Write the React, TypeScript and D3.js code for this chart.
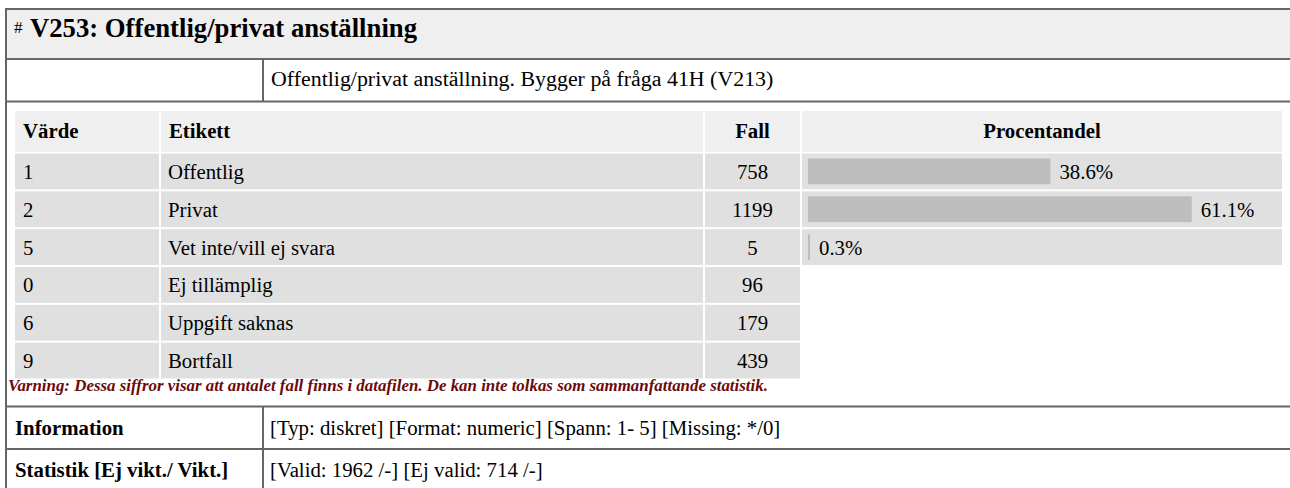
import React from "react";
import * as d3 from "d3";

const values = ["1", "2", "5", "0", "6", "9"];
const labels = ["Offentlig", "Privat", "Vet inte/vill ej svara", "Ej tillämplig", "Uppgift saknas", "Bortfall"];
const counts = [758, 1199, 5, 96, 179, 439];
const percents: (number | null)[] = [38.6, 61.1, 0.3, null, null, null];
const headers = ["Värde", "Etikett", "Fall", "Procentandel"];

const title = "V253: Offentlig/privat anställning";
const description = "Offentlig/privat anställning. Bygger på fråga 41H (V213)";
const warning = "Varning: Dessa siffror visar att antalet fall finns i datafilen. De kan inte tolkas som sammanfattande statistik.";
const infoLabel = "Information";
const infoText = "[Typ: diskret] [Format: numeric] [Spann: 1- 5] [Missing: */0]";
const statLabel = "Statistik [Ej vikt./ Vikt.]";
const statText = "[Valid: 1962 /-] [Ej valid: 714 /-]";

const W = 1290;
const H = 488;
const FONT = "Liberation Serif, Times New Roman, serif";
const FS = 20.8;

export default function App() {
  const rowStep = 37.5;
  const dataTop = 153.5;
  const y = d3
    .scaleBand<string>()
    .domain(values)
    .range([dataTop, dataTop + rowStep * values.length])
    .paddingInner(2 / rowStep)
    .paddingOuter(0);
  const rowH = y.bandwidth();
  const x = d3.scaleLinear().domain([0, 100]).range([0, 628]);

  const cols = [
    { x0: 15, x1: 159 },
    { x0: 161, x1: 703 },
    { x0: 705, x1: 800 },
    { x0: 802, x1: 1282 },
  ];
  const barX = 808;
  const border = "#666";

  return (
    <svg
      width={W}
      height={H}
      style={{ position: "absolute", left: 0, top: 0, display: "block", fontFamily: FONT }}
    >
      <rect x={0} y={0} width={W} height={H} fill="#fff" />
      <rect x={6} y={9} width={1290} height={50} fill="#efefef" />
      <text x={14} y={33} fontSize={17} fill="#000">#</text>
      <text x={30} y={37} fontSize={26.7} fontWeight="bold" fill="#000">{title}</text>
      <text x={271} y={86} fontSize={21.9} fill="#000">{description}</text>

      {headers.map((h, i) => {
        const c = cols[i];
        const centered = i >= 2;
        return (
          <g key={h}>
            <rect x={c.x0} y={111} width={c.x1 - c.x0} height={41} fill="#efefef" />
            <text
              x={centered ? (c.x0 + c.x1) / 2 : c.x0 + 8}
              y={138}
              fontSize={FS}
              fontWeight="bold"
              textAnchor={centered ? "middle" : "start"}
            >
              {h}
            </text>
          </g>
        );
      })}

      {values.map((v, i) => {
        const top = y(v)!;
        const p = percents[i];
        const base = top + rowH / 2 + 7.5;
        return (
          <g key={v}>
            <rect x={cols[0].x0} y={top} width={cols[0].x1 - cols[0].x0} height={rowH} fill="#e0e0e0" />
            <rect x={cols[1].x0} y={top} width={cols[1].x1 - cols[1].x0} height={rowH} fill="#e0e0e0" />
            <rect x={cols[2].x0} y={top} width={cols[2].x1 - cols[2].x0} height={rowH} fill="#e0e0e0" />
            <text x={cols[0].x0 + 8} y={base} fontSize={FS}>{v}</text>
            <text x={cols[1].x0 + 7} y={base} fontSize={FS}>{labels[i]}</text>
            <text x={(cols[2].x0 + cols[2].x1) / 2} y={base} fontSize={FS} textAnchor="middle">{counts[i]}</text>
            {p !== null && (
              <g>
                <rect x={cols[3].x0} y={top} width={cols[3].x1 - cols[3].x0} height={rowH} fill="#e0e0e0" />
                <rect x={barX} y={top + 5} width={Math.max(x(p), 2)} height={rowH - 10} fill="#bdbdbd" />
                <text x={barX + Math.max(x(p), 2) + 9} y={base} fontSize={FS}>{p.toFixed(1)}%</text>
              </g>
            )}
          </g>
        );
      })}

      <text x={8} y={391} fontSize={16.9} fontWeight="bold" fontStyle="italic" fill="#6b0a0a">{warning}</text>

      <text x={15} y={435} fontSize={FS} fontWeight="bold">{infoLabel}</text>
      <text x={270} y={435} fontSize={FS}>{infoText}</text>
      <text x={15} y={477} fontSize={FS} fontWeight="bold">{statLabel}</text>
      <text x={270} y={477} fontSize={FS}>{statText}</text>

      <g stroke={border} strokeWidth={2} fill="none">
        <line x1={6} y1={9} x2={W} y2={9} />
        <line x1={6} y1={8} x2={6} y2={H} />
        <line x1={6} y1={59} x2={W} y2={59} />
        <line x1={6} y1={101.5} x2={W} y2={101.5} />
        <line x1={263} y1={59} x2={263} y2={101.5} />
        <line x1={6} y1={406.5} x2={W} y2={406.5} />
        <line x1={6} y1={449} x2={W} y2={449} />
        <line x1={263} y1={406.5} x2={263} y2={H} />
      </g>
    </svg>
  );
}
